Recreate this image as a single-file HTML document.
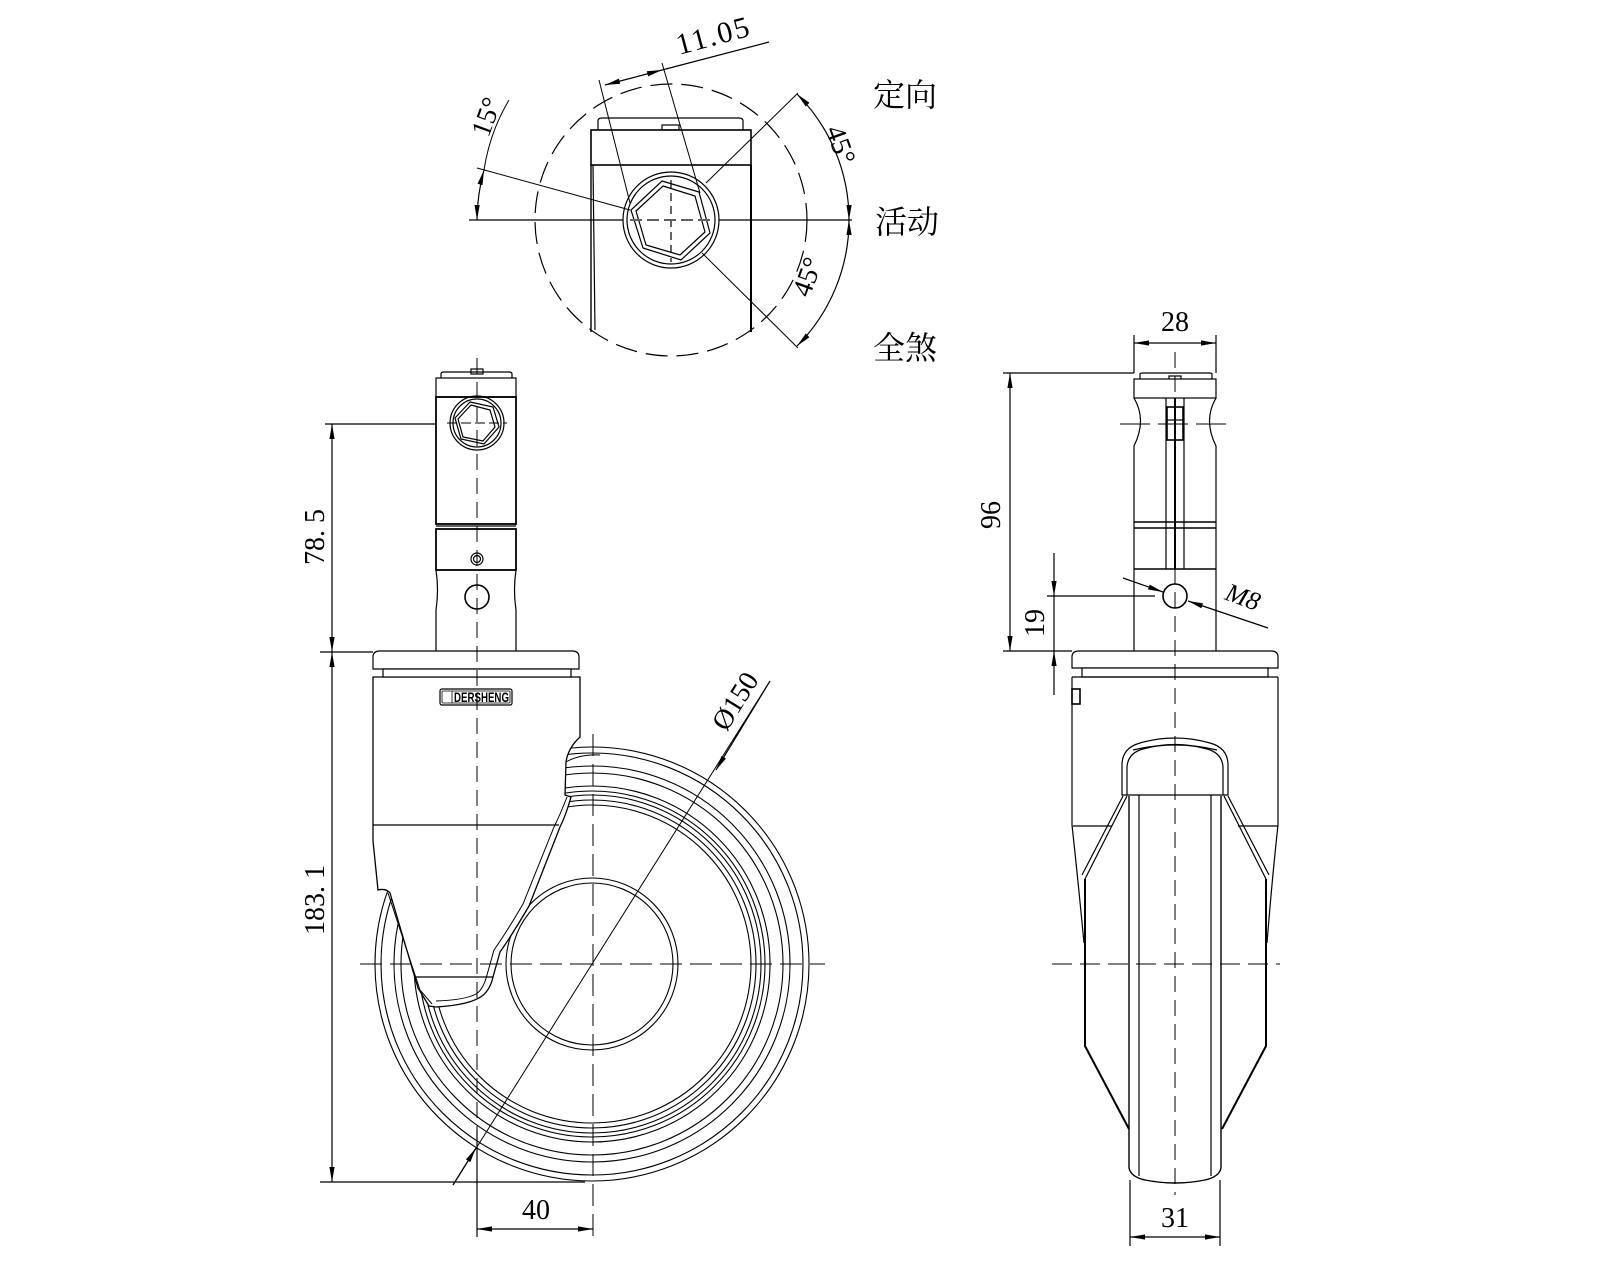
<!DOCTYPE html>
<html><head><meta charset="utf-8"><style>
html,body{margin:0;padding:0;background:#fff;}
svg{display:block;}
text{font-family:"Liberation Serif","Noto Serif CJK SC",serif;fill:#000;}
.cn{font-family:"Liberation Serif","Noto Serif CJK SC","Noto Sans CJK SC",serif;font-size:32px;}
</style></head><body>
<svg width="1600" height="1280" viewBox="0 0 1600 1280" xmlns="http://www.w3.org/2000/svg">
<defs>
<marker id="a" markerUnits="userSpaceOnUse" markerWidth="20" markerHeight="10" viewBox="-16 -5 17 10" refX="0" refY="0" orient="auto-start-reverse" overflow="visible">
<path d="M0,0 L-15,-2.6 L-15,2.6Z" fill="#000"/>
</marker>
</defs>
<g fill="none" stroke="#000" stroke-width="1.2">

<!-- ================= TOP VIEW ================= -->
<circle cx="671" cy="220" r="136" stroke-dasharray="22 9"/>
<line x1="469" y1="220" x2="852" y2="220"/>
<path d="M598,130 L598,121 Q598,118 602,118 L739,118 Q743,118 743,121 L743,130"/>
<rect x="662" y="125" width="17" height="5"/>
<rect x="591" y="130" width="160" height="35" stroke-width="1.6"/>
<line x1="591" y1="165" x2="591" y2="332" stroke-width="1.4"/>
<line x1="593" y1="165" x2="595" y2="330"/>
<line x1="751" y1="165" x2="751" y2="332" stroke-width="2"/>
<circle cx="671" cy="220" r="48" fill="#fff"/>
<circle cx="671" cy="220" r="44"/>
<polygon points="662,181 699,192 710,233 681,260 643,248 631,210"/>
<polygon points="663,186 695,196 705,232 680,255 646,245 636,211"/>
<line x1="671" y1="180" x2="671" y2="262" stroke-dasharray="8 5"/>
<line x1="630" y1="220" x2="712" y2="220" stroke-dasharray="12 5" stroke="#fff" stroke-width="2"/>
<line x1="630" y1="220" x2="712" y2="220" stroke-dasharray="12 5"/>
<line x1="477" y1="168" x2="630" y2="210" stroke-width="1"/>
<path d="M477,220 A194,194 0 0 1 484,170" marker-start="url(#a)" marker-end="url(#a)"/>
<path d="M484,170 A194,194 0 0 1 509,100" stroke-width="1"/>
<line x1="630" y1="203" x2="599" y2="80" stroke-width="1"/>
<line x1="700" y1="193" x2="662" y2="63" stroke-width="1"/>
<line x1="605" y1="85" x2="662" y2="70" marker-start="url(#a)" marker-end="url(#a)"/>
<line x1="662" y1="70" x2="769" y2="42"/>
<line x1="706" y1="183" x2="798" y2="93" stroke-width="1"/>
<line x1="702" y1="253" x2="798" y2="348" stroke-width="1"/>
<path d="M797,94 A178,178 0 0 1 849,220" marker-start="url(#a)" marker-end="url(#a)"/>
<path d="M849,220 A178,178 0 0 1 797,346" marker-start="url(#a)" marker-end="url(#a)"/>

<!-- ================= LEFT VIEW ================= -->
<g stroke-width="1.1">
<circle cx="592" cy="964" r="217"/>
<circle cx="592" cy="964" r="211"/>
<circle cx="592" cy="964" r="198"/>
<circle cx="592" cy="964" r="191"/>
<circle cx="592" cy="964" r="178"/>
<circle cx="592" cy="964" r="173"/>
<circle cx="592" cy="964" r="169"/>
<circle cx="592" cy="964" r="164"/>
<circle cx="592" cy="964" r="159"/>
<circle cx="592" cy="964" r="86"/>
<circle cx="592" cy="964" r="81"/>
</g>
<path d="M373,677 L580,677 L580,737 Q568,748 566,762 L565,795 L571,797 Q566,815 560,827 L529,906 Q512,935 500,952 L493,977 Q490,990 482,996 Q470,1005 436,1007 L429,1006 L418,988 L390,893 Q386,888 378,890 L373,841 Z" fill="#fff" stroke-width="1.3"/>
<path d="M567,797 Q560,815 554,827 L523,904 Q506,933 494,950 L487,975 Q483,990 476,994 Q465,1000 436,1001" stroke-width="1"/>
<path d="M388,893 L420,990 L432,1004" stroke-width="1"/>
<line x1="373" y1="825" x2="559" y2="825"/>
<line x1="416" y1="977" x2="493" y2="977"/>
<path d="M566,762 Q580,754 600,755" stroke-width="1"/>
<path d="M373,669 L373,657 Q373,651 380,651 L572,651 Q579,651 579,657 L579,669 Z" fill="#fff"/>
<rect x="383" y="669" width="188" height="8" fill="#fff"/>
<rect x="440" y="689" width="72" height="16" rx="2"/>
<rect x="442" y="691" width="68" height="12" rx="1" stroke-width="0.8"/>
<line x1="452" y1="691" x2="452" y2="703" stroke-width="0.8"/>
<path d="M441,378 L441,374 Q441,372 444,372 L509,372 Q512,372 512,374 L512,378"/>
<rect x="471" y="369" width="12" height="5"/>
<rect x="436" y="378" width="80" height="19" fill="#fff"/>
<rect x="436" y="397" width="80" height="127" stroke-width="1.8"/>
<rect x="436" y="529" width="80" height="41" stroke-width="1.8"/>
<line x1="436" y1="526" x2="516" y2="526"/>
<path d="M436,570 Q439,590 436,610 L436,651"/>
<path d="M516,570 Q513,590 516,610 L516,651"/>
<circle cx="477" cy="423" r="27"/>
<circle cx="477" cy="423" r="24"/>
<polygon points="470,402 493,407 499,427 484,444 461,439 455,418"/>
<polygon points="471,405 490,410 495,427 483,441 463,437 458,419"/>
<circle cx="477" cy="559" r="6"/>
<circle cx="477" cy="559" r="3.5"/>
<circle cx="477" cy="597" r="12" stroke-width="1.6"/>
<line x1="477" y1="358" x2="477" y2="1180" stroke-dasharray="16 8" stroke-width="1"/>
<line x1="593" y1="734" x2="593" y2="1237" stroke-dasharray="22 8" stroke-width="1"/>
<line x1="360" y1="964" x2="825" y2="964" stroke-dasharray="22 8" stroke-width="1"/>
<line x1="447" y1="423" x2="507" y2="423" stroke-dasharray="10 4" stroke-width="1"/>
<line x1="325" y1="424" x2="436" y2="424"/>
<line x1="320" y1="652" x2="373" y2="652"/>
<line x1="320" y1="1182" x2="585" y2="1182"/>
<line x1="332" y1="424" x2="332" y2="652" marker-start="url(#a)" marker-end="url(#a)"/>
<line x1="332" y1="652" x2="332" y2="1182" marker-start="url(#a)" marker-end="url(#a)"/>
<line x1="477" y1="1130" x2="477" y2="1237"/>
<line x1="477" y1="1229" x2="593" y2="1229" marker-start="url(#a)" marker-end="url(#a)"/>
<line x1="453" y1="1185" x2="770" y2="681" stroke-width="1"/>
<line x1="453" y1="1185" x2="476" y2="1148" marker-end="url(#a)"/>
<line x1="770" y1="681" x2="716" y2="770" marker-end="url(#a)"/>

<!-- ================= RIGHT VIEW ================= -->
<path d="M1072,677 L1072,825 Q1078,880 1084,943"/>
<path d="M1278,677 L1278,825 Q1272,880 1267,943"/>
<path d="M1085,879 L1085,1046 L1129,1129" stroke-width="2"/>
<path d="M1266,879 L1266,1046 L1222,1129" stroke-width="2"/>
<path d="M1127,796 L1085,879 M1123,796 L1082,875"/>
<path d="M1224,796 L1266,879 M1228,796 L1269,875"/>
<line x1="1073" y1="826" x2="1112" y2="826"/>
<line x1="1238" y1="826" x2="1278" y2="826"/>
<path d="M1129,796 L1129,1168 Q1131,1177 1145,1180 Q1175,1186 1205,1180 Q1219,1177 1221,1168 L1221,796" fill="#fff" stroke-width="1.4"/>
<line x1="1139" y1="750" x2="1139" y2="1176"/>
<line x1="1211" y1="750" x2="1211" y2="1176"/>
<path d="M1122,795 L1122,765 Q1122,748 1140,743 Q1175,733 1210,743 Q1228,748 1228,765 L1228,795 Z" fill="#fff"/>
<path d="M1127,795 L1127,767 Q1128,753 1143,749 Q1175,740 1207,749 Q1222,753 1223,767 L1223,795"/>
<path d="M1133,750 Q1175,740 1217,750"/>
<path d="M1072,668 L1072,657 Q1072,651 1079,651 L1271,651 Q1278,651 1278,657 L1278,668 Z" fill="#fff"/>
<rect x="1082" y="668" width="186" height="9" fill="#fff"/>
<line x1="1072" y1="677" x2="1278" y2="677"/>
<rect x="1072" y="689" width="8" height="15" stroke-width="1.6"/>
<path d="M1140,379 L1140,374 Q1140,373 1143,373 L1209,373 Q1212,373 1212,374 L1212,379"/>
<rect x="1169" y="376" width="12" height="4"/>
<rect x="1134" y="379" width="82" height="19" fill="#fff"/>
<path d="M1134,398 Q1147,420 1134,446 L1134,651"/>
<path d="M1216,398 Q1203,420 1216,446 L1216,651"/>
<line x1="1134" y1="522" x2="1216" y2="522" stroke-width="1.6"/>
<line x1="1134" y1="528" x2="1216" y2="528" stroke-width="1.6"/>
<line x1="1134" y1="569" x2="1216" y2="569" stroke-width="1.6"/>
<line x1="1166" y1="398" x2="1166" y2="569"/>
<line x1="1184" y1="398" x2="1184" y2="569"/>
<line x1="1175" y1="398" x2="1175" y2="569" stroke-width="2"/>
<rect x="1167" y="407" width="16" height="33" stroke-width="1.6"/>
<line x1="1167" y1="420" x2="1183" y2="420"/>
<circle cx="1175" cy="596" r="12" stroke-width="1.6"/>
<line x1="1175" y1="352" x2="1175" y2="1195" stroke-dasharray="16 8" stroke-width="1"/>
<line x1="1052" y1="964" x2="1280" y2="964" stroke-dasharray="20 8" stroke-width="1"/>
<line x1="1120" y1="424" x2="1230" y2="424" stroke-dasharray="30 8" stroke-width="1"/>
<line x1="1134" y1="335" x2="1134" y2="373"/>
<line x1="1216" y1="335" x2="1216" y2="373"/>
<line x1="1134" y1="343" x2="1216" y2="343" marker-start="url(#a)" marker-end="url(#a)"/>
<line x1="1003" y1="373" x2="1134" y2="373"/>
<line x1="1003" y1="651" x2="1072" y2="651"/>
<line x1="1010" y1="373" x2="1010" y2="651" marker-start="url(#a)" marker-end="url(#a)"/>
<line x1="1047" y1="596" x2="1155" y2="596"/>
<line x1="1054" y1="553" x2="1054" y2="596" marker-end="url(#a)"/>
<line x1="1054" y1="695" x2="1054" y2="651" marker-end="url(#a)"/>
<line x1="1054" y1="596" x2="1054" y2="651"/>
<line x1="1123" y1="578" x2="1163" y2="592" marker-end="url(#a)"/>
<line x1="1268" y1="628" x2="1188" y2="601" marker-end="url(#a)"/>
<line x1="1130" y1="1180" x2="1130" y2="1246"/>
<line x1="1220" y1="1180" x2="1220" y2="1246"/>
<line x1="1130" y1="1237" x2="1220" y2="1237" marker-start="url(#a)" marker-end="url(#a)"/>
</g>

<!-- ================= TEXT ================= -->
<text x="454" y="702" font-size="14" font-weight="bold" style="font-family:'Liberation Sans',sans-serif" textLength="55" lengthAdjust="spacingAndGlyphs">DERSHENG</text>

<text x="0" y="0" font-size="28" transform="translate(743,706) rotate(-58)" text-anchor="middle">Ø150</text>
<text x="0" y="0" font-size="28" transform="translate(324,537) rotate(-90)" text-anchor="middle">78. 5</text>
<text x="0" y="0" font-size="28" transform="translate(324,900) rotate(-90)" text-anchor="middle">183. 1</text>
<text x="536" y="1219" font-size="28" text-anchor="middle">40</text>

<text x="1175" y="331" font-size="28" text-anchor="middle">28</text>
<text x="0" y="0" font-size="28" transform="translate(1000,515) rotate(-90)" text-anchor="middle">96</text>
<text x="0" y="0" font-size="28" transform="translate(1044,623) rotate(-90)" text-anchor="middle">19</text>
<text x="0" y="0" font-size="26" font-style="italic" transform="translate(1240,605) rotate(20)" text-anchor="middle">M8</text>
<text x="1175" y="1227" font-size="28" text-anchor="middle">31</text>

<text x="0" y="0" font-size="30" transform="translate(716,45) rotate(-15)" text-anchor="middle" letter-spacing="2">11.05</text>
<text x="0" y="0" font-size="28" transform="translate(495,120) rotate(-70)" text-anchor="middle">15°</text>
<text x="0" y="0" font-size="28" transform="translate(832,148) rotate(70)" text-anchor="middle">45°</text>
<text x="0" y="0" font-size="28" transform="translate(816,280) rotate(-70)" text-anchor="middle">45°</text>

<text x="873" y="106" class="cn">定向</text>
<text x="875" y="233" class="cn">活动</text>
<text x="873" y="359" class="cn">全煞</text>
</svg>
</body></html>
